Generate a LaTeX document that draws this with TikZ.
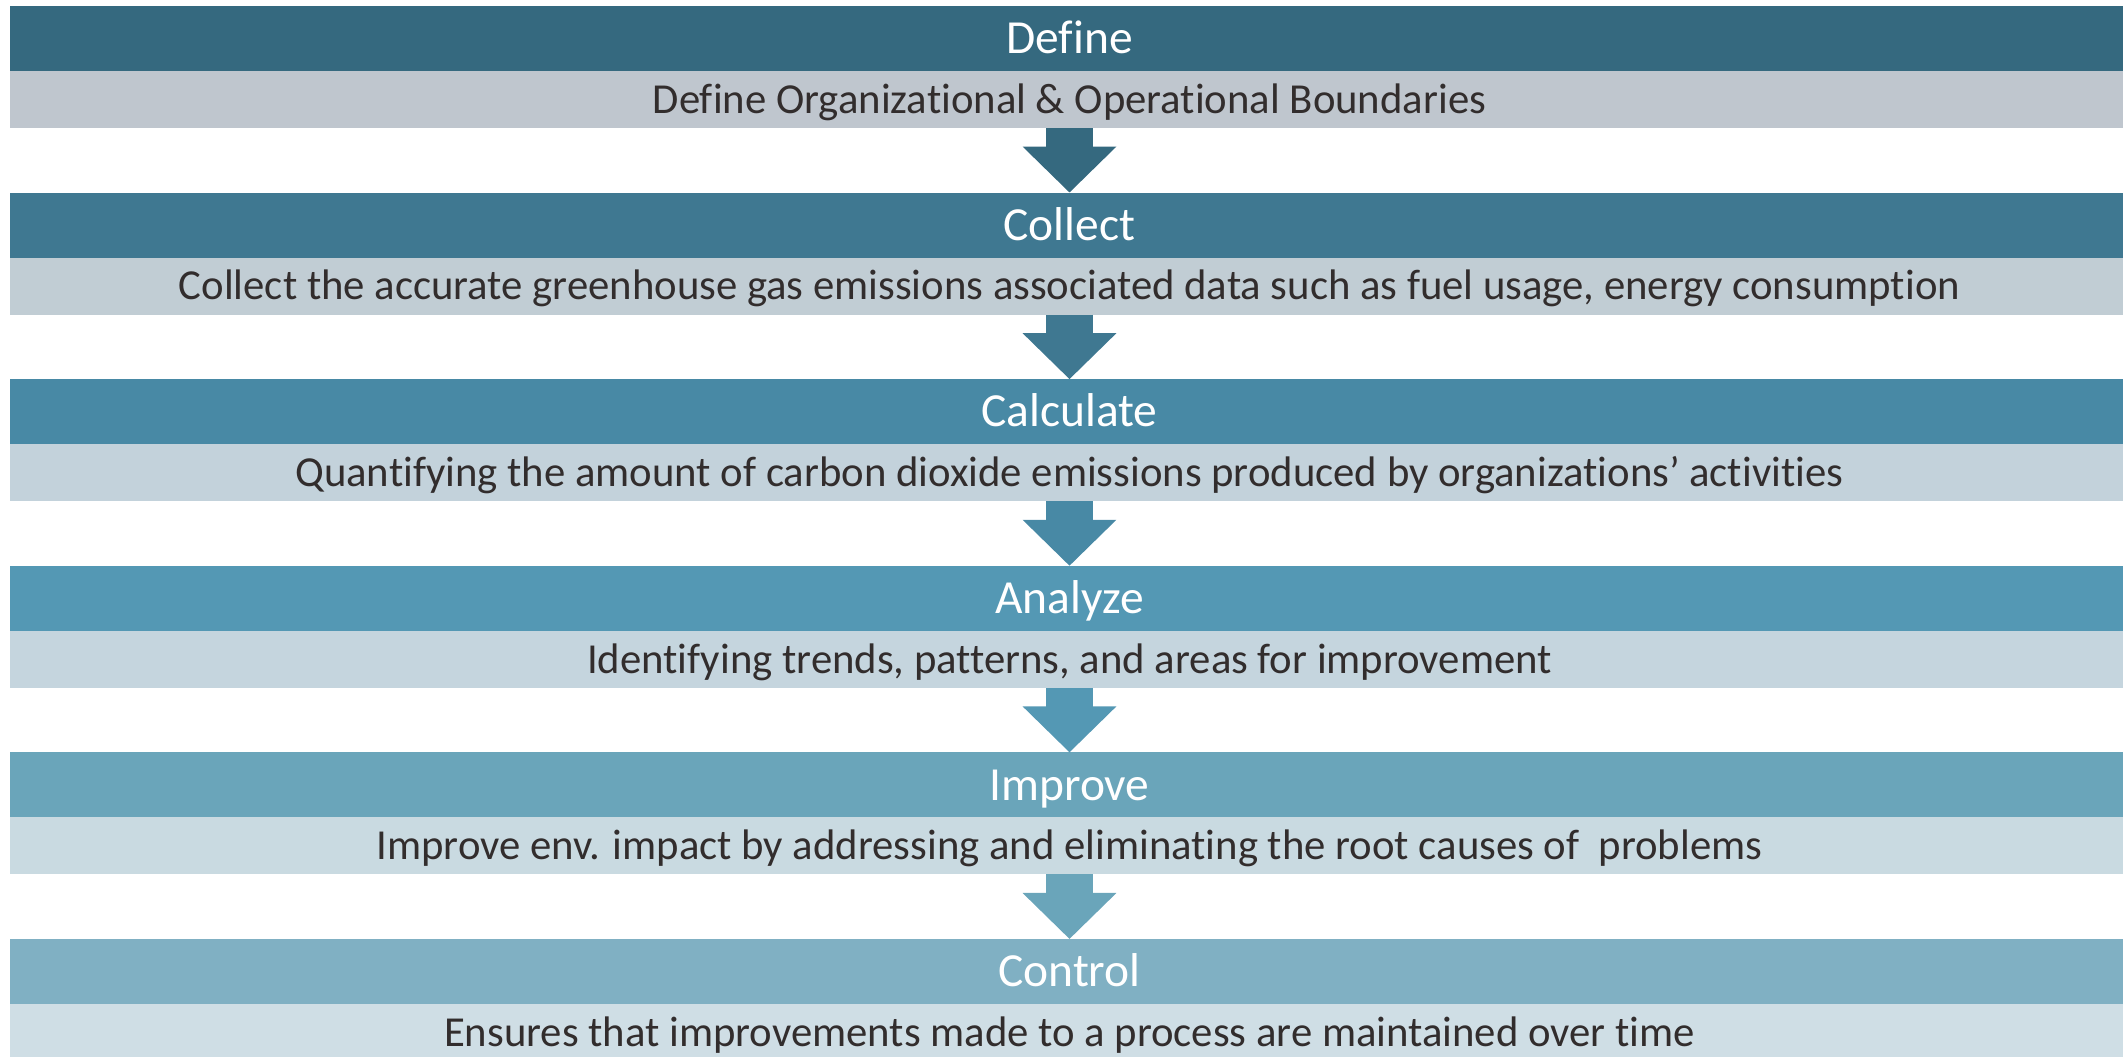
\documentclass[tikz,border=0pt]{standalone}
\usepackage{fontspec}
\setmainfont{Carlito}[Ligatures=NoCommon]
\usetikzlibrary{positioning}
\usetikzlibrary{arrows.meta}
\definecolor{hd1}{RGB}{53,105,127}
\definecolor{hd2}{RGB}{63,120,145}
\definecolor{hd3}{RGB}{72,137,165}
\definecolor{hd4}{RGB}{84,152,180}
\definecolor{hd5}{RGB}{106,165,186}
\definecolor{hd6}{RGB}{128,176,195}
\definecolor{sb1}{RGB}{191,198,206}
\definecolor{sb2}{RGB}{193,205,212}
\definecolor{sb3}{RGB}{195,210,219}
\definecolor{sb4}{RGB}{197,213,222}
\definecolor{sb5}{RGB}{201,218,225}
\definecolor{sb6}{RGB}{207,222,229}
\definecolor{subtext}{RGB}{50,45,45}
\tikzset{stephead/.style={rectangle, anchor=north, inner sep=0pt, outer sep=0pt,
    minimum width=21.17cm, minimum height=0.65cm, text height=0.305cm, text depth=0pt,
    text=white, font=\fontsize{13.5pt}{15pt}\selectfont}}
\tikzset{stepsub/.style={rectangle, inner sep=0pt, outer sep=0pt,
    minimum width=21.17cm, minimum height=0.57cm, text height=0.275cm, text depth=0pt,
    text=subtext, font=\fontsize{12.15pt}{14pt}\selectfont}}
\tikzset{flowarrow/.style={line width=0.47cm, -{Triangle[width=0.91cm,length=0.46cm]}}}

\begin{document}
\begin{tikzpicture}[x=0.01cm,y=-0.01cm]
  \useasboundingbox (0,0) rectangle (2123,1056);
  \foreach \i/\top/\name/\lab in {
    1/6/Define/{Define Organizational \& Operational Boundaries},
    2/192.6/Collect/{Collect the accurate greenhouse gas emissions associated data such as fuel usage, energy consumption},
    3/379.2/Calculate/{Quantifying the amount of carbon dioxide emissions produced by organizations’ activities},
    4/565.8/Analyze/{Identifying trends, patterns, and areas for improvement},
    5/752.4/Improve/{Improve env. impact by addressing and eliminating the root causes of\ \ problems},
    6/939/Control/{Ensures that improvements made to a process are maintained over time}%
  } {
    \node[stephead, fill=hd\i] (head\i) at (1069.5, \top) {\name};
    \node[stepsub, fill=sb\i, below=0pt of head\i] (sub\i) {\lab};
  }
  \foreach \u/\v in {1/2, 2/3, 3/4, 4/5, 5/6}{
    \draw[flowarrow, hd\u] (sub\u.south) -- (head\v.north);
  }
\end{tikzpicture}
\end{document}
